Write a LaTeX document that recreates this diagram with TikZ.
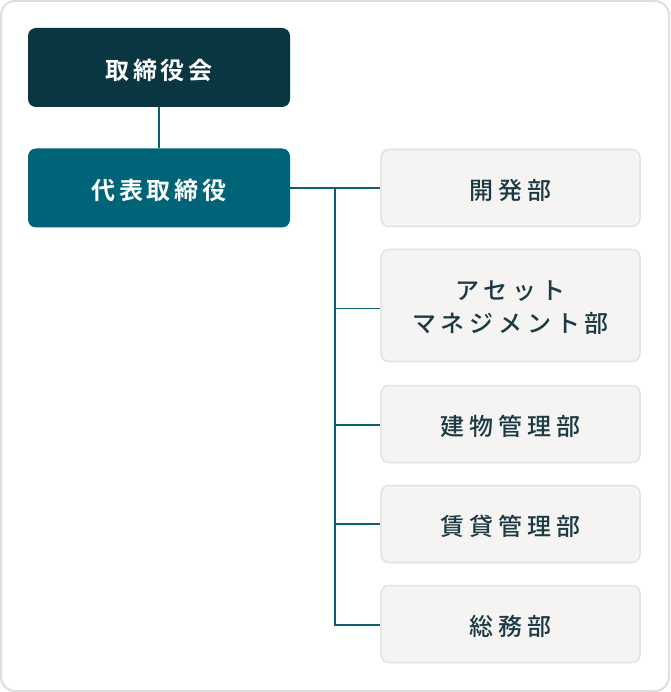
\documentclass[tikz,border=0pt]{standalone}
\usepackage{fontspec}
\newfontfamily\jp[LetterSpace=20]{Noto Sans CJK JP Medium}
\newfontfamily\jpb[LetterSpace=16]{Noto Sans CJK JP Bold}
\newcommand\dnshift[1]{\raisebox{-2.5pt}[\height][\depth]{#1}}
\definecolor{frame}{HTML}{DEDEDE}
\definecolor{board}{HTML}{0A3641}
\definecolor{ceo}{HTML}{006479}
\definecolor{deptfill}{HTML}{F5F4F2}
\definecolor{deptline}{HTML}{E2E2E0}
\definecolor{conn}{HTML}{0B5F70}
\definecolor{txt}{HTML}{1C3A44}
\tikzset{
  topbox/.style={rounded corners=8pt, minimum width=262pt, minimum height=79pt, inner sep=0pt, text=white, font={\jpb\fontsize{24}{30}\selectfont}},
  deptbox/.style={draw=deptline, line width=1.5pt, fill=deptfill, rounded corners=8pt, minimum width=259pt, minimum height=77pt, inner sep=0pt, text=txt, font={\jp\fontsize{24}{33}\selectfont}},
  conn/.style={draw=conn, line width=1.8pt}
}
\begin{document}
\begin{tikzpicture}[x=1pt,y=-1pt]
\useasboundingbox (0,0) rectangle (670,692);
\draw[frame, line width=2pt, fill=white, rounded corners=14pt] (1,1) rectangle (669,691);
\node[topbox, fill=board] (board) at (159,67.5) {\dnshift{取締役会}};
\node[topbox, fill=ceo] (ceo) at (159,188) {\dnshift{代表取締役}};
\node[deptbox] (d1) at (510.5,188) {\dnshift{開発部}};
\node[deptbox, minimum height=112pt] (d2) at (510.5,305.5) {\raisebox{-3.5pt}[\height][\depth]{\begin{tabular}{@{}c@{}}アセット\\マネジメント部\end{tabular}}};
\node[deptbox] (d3) at (510.5,424) {\dnshift{建物管理部}};
\node[deptbox] (d4) at (510.5,524) {\dnshift{賃貸管理部}};
\node[deptbox] (d5) at (510.5,624) {\dnshift{総務部}};
\coordinate (trunk) at (335,188);
\draw[conn] (board) -- (ceo);
\draw[conn] (ceo.east) -- (d1.west);
\draw[conn] (trunk) |- ([yshift=-3pt]d2.west);
\draw[conn] (trunk) |- ([yshift=-1pt]d3.west);
\draw[conn] (trunk) |- (d4.west);
\draw[conn] (trunk) |- ([yshift=-1pt]d5.west);
\end{tikzpicture}
\end{document}
